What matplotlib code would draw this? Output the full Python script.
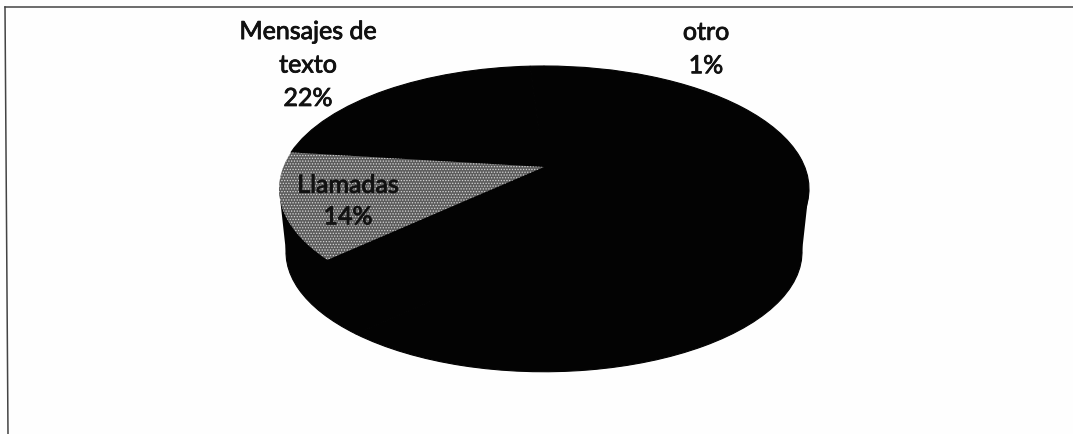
import matplotlib
matplotlib.use('Agg')
import matplotlib.pyplot as plt
import matplotlib.patheffects as pe
import numpy as np
from matplotlib.lines import Line2D
from matplotlib.transforms import Transform

# Data, the first slice has no readable label (black on black)
categories = ['', 'Llamadas', 'Mensajes de\ntexto', 'otro']
values = [63, 14, 22, 1]
colors = ['#030303', '#5c5c5c', '#030303', '#030303']

W, H = 1073, 435


class Tilt(Transform):
    # moves the pie centre up but keeps the unit circle, like a 3D view
    input_dims = 2
    output_dims = 2

    def __init__(self, t):
        super().__init__()
        self.t = t

    def transform_non_affine(self, xy):
        x, y = xy[:, 0], xy[:, 1]
        d = 1 + self.t * y
        return np.column_stack([x * np.sqrt(1 - self.t ** 2) / d, (y + self.t) / d])


plt.rcParams['hatch.linewidth'] = 0.6

fig = plt.figure(figsize=(W / 100, H / 100), dpi=100, facecolor='#fefefe')

# top face spans x 279-809, y 67-313, side goes down to 376
depth = 63 / 123
ax = fig.add_axes([279 / W, 1 - 376 / H, 530 / W, 309 / H])

# side of the cylinder
r_low = 258 / 265
ax.pie(values, colors=['#030303'] * 4, startangle=90, counterclock=False,
       radius=r_low, center=(0, -depth),
       wedgeprops={'linewidth': 0.8, 'edgecolor': '#030303'})
ax.fill([-1, 1, r_low, -r_low], [0, 0, -depth, -depth], color='#030303', lw=0)

# top face
wedges, _ = ax.pie(values, colors=colors, startangle=90, counterclock=False,
                   wedgeprops={'linewidth': 0.8, 'edgecolor': '#030303'})
tilt = Tilt(22 / 123)
for w in wedges:
    w.set_transform(tilt + ax.transData)
    w.set_zorder(3)
wedges[1].set_zorder(4)
wedges[1].set_linewidth(0)
wedges[1].set_hatch('......')
wedges[1].set_edgecolor('#d6d6d6')

ax.set_aspect('auto')
ax.set_xlim(-1, 1)
ax.set_ylim(-1 - depth, 1)
ax.axis('off')

# labels sit at pixel positions of the reference, the stroke thickens Lato regular
font = dict(family='Lato', fontsize=18, color='#111111', ha='center', va='center',
            linespacing=1.55,
            path_effects=[pe.withStroke(linewidth=0.6, foreground='#111111')])
fig.text(308 / W, 1 - 66 / H, f'{categories[2]}\n{values[2]}%', **font)
fig.text(706 / W, 1 - 50 / H, f'{categories[3]}\n{values[3]}%', **font)
fig.text(348 / W, 1 - 202 / H, f'{categories[1]}\n{values[1]}%', zorder=5,
         **{**font, 'linespacing': 1.45})

# chart border, scan leaves no right edge
for xs, ys in [((5, W), (8, 8)), ((5, 8), (8, H))]:
    fig.add_artist(Line2D([x / W for x in xs], [1 - y / H for y in ys],
                          color='#444444', lw=1.1))

fig.savefig('out.png', dpi=100, facecolor=fig.get_facecolor())
